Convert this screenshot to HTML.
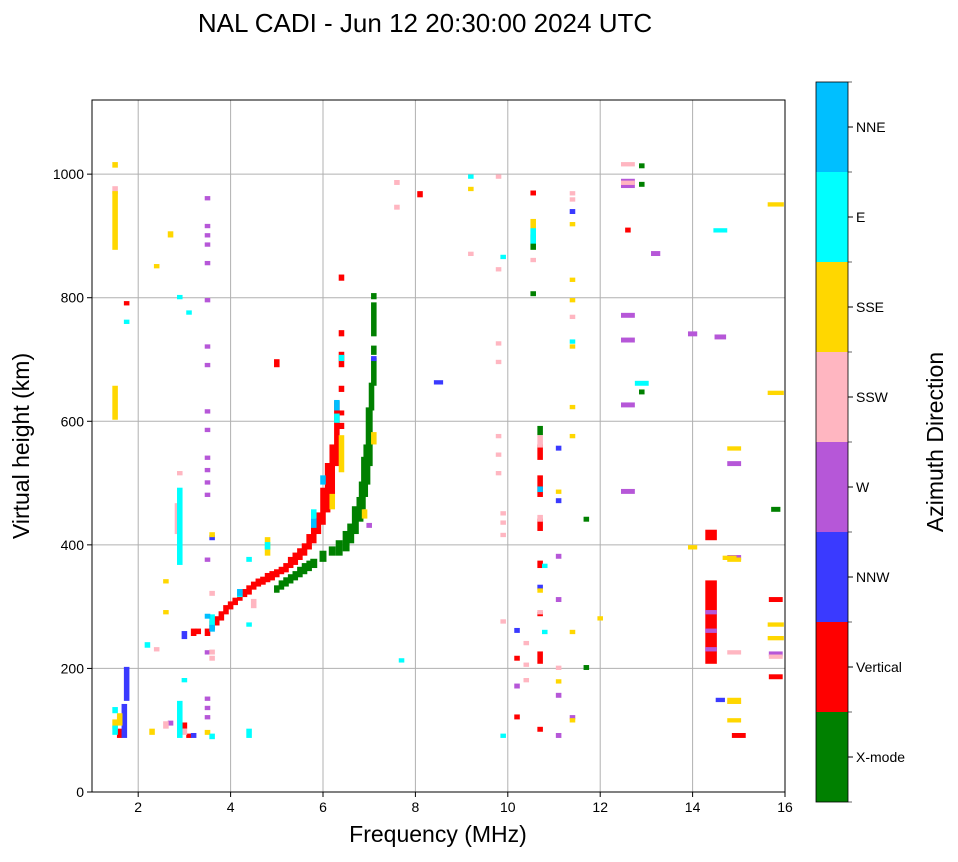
<!DOCTYPE html>
<html><head><meta charset="utf-8">
<style>
html,body{margin:0;padding:0;background:#fff;}
body{width:958px;height:857px;overflow:hidden;font-family:"Liberation Sans",sans-serif;}
</style></head>
<body>
<svg id="chart" width="958" height="857" xmlns="http://www.w3.org/2000/svg" font-family="Liberation Sans, sans-serif">
<text x="425" y="32" font-size="26" text-anchor="middle">NAL CADI - Jun 12 20:30:00 2024 UTC</text>
<g id="grid"></g>
<g id="cells"></g>
<rect x="92" y="100" width="693" height="692" fill="none" stroke="#000" stroke-width="1"/>
<g id="axes"></g>
<text x="438" y="842" font-size="23" text-anchor="middle">Frequency (MHz)</text>
<text x="0" y="0" font-size="23" text-anchor="middle" transform="translate(29,446) rotate(-90)">Virtual height (km)</text>
<g id="colorbar"></g>
<text x="0" y="0" font-size="23" text-anchor="middle" transform="translate(943,442) rotate(-90)">Azimuth Direction</text>
</svg>
<script>
// ---- data ----
const xTicks = [2,4,6,8,10,12,14,16];
const yTicks = [0,200,400,600,800,1000];
const categoryLabels = ["X-mode","Vertical","NNW","W","SSW","SSE","E","NNE"];
const categoryColors = ["#008000","#ff0000","#3a3aff","#b657d8","#ffb6c1","#ffd700","#00ffff","#00bfff"];
// cells: [freq MHz, hLow km, hHigh km, optional bin width MHz]
const xmodeCells = [[5.0,325,332],[5.1,330,340],[5.2,335,345],[5.3,340,350],[5.4,345,355],[5.5,350,362],[5.6,355,368],[5.7,360,372],[5.8,365,375,0.15],[6.0,375,388,0.15],[6.2,385,395,0.15],[6.35,385,405,0.15],[6.5,392,420,0.15],[6.6,405,432,0.15],[6.7,420,460,0.15],[6.8,440,475,0.15],[6.85,460,500,0.15],[6.9,480,540,0.15],[6.95,500,560,0.15],[7.0,530,620,0.15],[7.05,620,660],[7.1,660,700],[7.1,710,720],[7.1,740,790],[7.1,800,805],[10.55,880,900],[10.55,805,808],[10.7,580,590],[11.7,440,443],[11.7,200,203],[12.9,1012,1015],[12.9,982,985],[12.9,646,649],[15.8,456,459,0.2]];
const verticalCells = [[3.2,255,262],[3.3,258,262],[3.5,255,262],[3.6,265,275],[3.7,272,282],[3.8,280,290],[3.9,290,300],[4.0,298,306],[4.1,305,312],[4.2,312,320],[4.3,318,326],[4.4,322,332],[4.5,330,338],[4.6,335,343],[4.7,338,346],[4.8,342,352],[4.9,345,355],[5.0,350,358],[5.1,355,362],[5.2,358,368],[5.3,365,378],[5.4,370,385],[5.5,378,392],[5.6,385,400],[5.7,395,415],[5.8,405,430],[5.9,420,450],[6.0,435,490],[6.1,455,530],[6.2,475,560],[6.3,530,630],[6.4,690,710],[6.4,740,745],[6.4,830,835],[6.4,650,655],[6.4,612,615],[6.4,590,595],[5.0,690,698],[1.6,90,100],[1.75,790,792],[3.0,105,110],[3.1,90,92],[8.1,965,970],[10.2,215,218],[10.2,120,123],[10.55,968,971],[10.7,540,560],[10.7,480,510],[10.7,425,440],[10.7,365,372],[10.7,287,289],[10.7,210,225],[10.7,100,103],[12.6,908,911],[14.4,210,340,0.25],[14.4,410,422,0.25],[15.0,90,93,0.3],[15.8,310,313,0.3],[15.8,185,188,0.3]];
const nnwCells = [[1.7,90,140],[1.75,150,200],[3.0,250,258],[3.2,90,93],[3.6,410,413],[7.1,700,703],[8.5,662,664,0.2],[10.2,260,263],[10.7,330,333],[11.1,555,558],[11.1,470,473],[11.4,938,941],[14.6,148,150,0.2]];
const wCells = [[3.5,960,962],[3.5,915,917],[3.5,900,902],[3.5,885,887],[3.5,855,857],[3.5,795,797],[3.5,720,722],[3.5,690,692],[3.5,615,617],[3.5,585,587],[3.5,540,542],[3.5,520,522],[3.5,500,502],[3.5,480,482],[3.5,375,377],[3.5,225,227],[3.5,150,152],[3.5,135,137],[3.5,120,122],[2.7,110,113],[7.0,430,433],[10.2,170,173],[11.1,380,383],[11.1,310,313],[11.1,155,158],[11.1,90,93],[11.4,120,122],[12.6,980,990,0.3],[12.6,770,773,0.3],[12.6,730,733,0.3],[12.6,625,628,0.3],[12.6,485,488,0.3],[13.2,870,873,0.2],[14.0,740,743,0.2],[14.4,230,232,0.25],[14.4,260,262,0.25],[14.4,290,292,0.25],[14.6,735,738,0.25],[14.9,530,533,0.3],[14.9,378,381,0.3],[15.8,222,225,0.3]];
const sswCells = [[1.5,970,978],[2.4,230,232],[2.6,105,112],[2.85,420,465],[2.9,515,517],[3.0,95,100],[3.6,215,218],[3.6,225,228],[3.6,320,323],[4.5,300,310],[7.6,985,988],[7.6,945,948],[9.2,870,872],[9.8,995,997],[9.8,845,847],[9.8,725,727],[9.8,695,697],[9.8,575,577],[9.8,545,547],[9.8,515,517],[9.9,450,452],[9.9,435,437],[9.9,415,417],[9.9,275,277],[10.4,240,242],[10.4,205,207],[10.4,180,182],[10.55,860,862],[10.7,560,575],[10.7,440,446],[10.7,290,292],[11.1,200,202],[11.4,968,970],[11.4,958,960],[11.4,768,770],[12.6,1015,1017,0.3],[12.6,985,987,0.3],[14.9,225,227,0.3],[14.9,145,147,0.3],[15.8,218,220,0.3]];
const sseCells = [[1.5,880,970],[1.5,1013,1017],[1.5,605,655],[1.5,105,115],[1.6,110,125],[2.3,95,100],[2.4,850,852],[2.6,290,292],[2.6,340,342],[2.7,900,905],[3.6,415,418],[3.5,95,98],[4.8,385,410],[6.2,460,480],[6.4,520,575],[6.9,445,455],[7.1,565,580],[9.2,975,977],[10.55,905,925],[10.7,325,327],[11.1,485,487],[11.1,178,180],[11.4,918,920],[11.4,828,830],[11.4,795,797],[11.4,720,722],[11.4,622,624],[11.4,575,577],[11.4,258,260],[11.4,115,117],[12.0,280,282],[14.0,395,397,0.2],[14.8,378,380,0.3],[14.9,555,557,0.3],[14.9,375,377,0.3],[14.9,145,150,0.3],[14.9,115,117,0.3],[15.8,950,952,0.35],[15.8,645,647,0.35],[15.8,270,272,0.35],[15.8,248,250,0.35]];
const eCells = [[1.5,95,105],[1.5,130,135],[1.75,760,762],[2.2,236,240],[2.9,90,145],[2.9,370,490],[2.9,800,802],[3.0,180,182],[3.1,775,777],[3.6,88,92],[3.6,270,285],[4.2,318,325],[4.4,90,100],[4.4,270,272],[4.4,375,378],[4.8,395,402],[5.8,445,455],[6.3,600,610],[6.4,700,705],[7.7,212,214],[9.2,995,997],[9.9,90,92],[9.9,865,867],[10.55,890,910],[10.8,365,367],[10.8,258,260],[11.4,728,730],[12.9,660,663,0.3],[14.6,908,910,0.3]];
const nneCells = [[3.5,283,286],[4.2,320,326],[5.8,430,440],[6.3,620,632],[6.0,500,510],[3.6,262,268],[10.7,488,492]];
const allCells = [xmodeCells,verticalCells,nnwCells,wCells,sswCells,sseCells,eCells,nneCells];

// ---- scales ----
const X0=92,X1=785,Y0=792,Y1=100, FMIN=1,FMAX=16,HMIN=0,HMAX=1120;
const xs = f => X0+(f-FMIN)/(FMAX-FMIN)*(X1-X0);
const ys = h => Y0-(h-HMIN)/(HMAX-HMIN)*(Y0-Y1);
const NS="http://www.w3.org/2000/svg";
function mk(tag,attrs,parent){const e=document.createElementNS(NS,tag);for(const k in attrs)e.setAttribute(k,attrs[k]);parent.appendChild(e);return e;}

const grid=document.getElementById('grid'), axes=document.getElementById('axes');
xTicks.forEach(t=>{
  const x=xs(t);
  if(t<FMAX){const l=mk('line',{x1:x,x2:x,y1:Y1,y2:Y0,stroke:'#b0b0b0','stroke-width':1},grid);
  
  }
  const tk=mk('line',{x1:x,x2:x,y1:Y0,y2:Y0+5,stroke:'#000'},axes);
  
  
  const tx=mk('text',{x:x,y:Y0+20,'font-size':14,'text-anchor':'middle'},axes);tx.textContent=t;
  
  
});
yTicks.forEach(t=>{
  const y=ys(t);
  if(t>0){const l=mk('line',{x1:X0,x2:X1,y1:y,y2:y,stroke:'#b0b0b0','stroke-width':1},grid);
  
  }
  const tk=mk('line',{x1:X0-5,x2:X0,y1:y,y2:y,stroke:'#000'},axes);
  
  
  const tx=mk('text',{x:X0-8,y:y+5,'font-size':14,'text-anchor':'end'},axes);tx.textContent=t;
  
  
});

const cells=document.getElementById('cells');
allCells.forEach((arr,ci)=>{
  arr.forEach(c=>{
    const w=(c[3]||0.12);
    const xa=xs(c[0]-w/2), xb=xs(c[0]+w/2);
    const ya=ys(c[2]+2.5), yb=ys(c[1]-2.5);
    const r=mk('rect',{x:xa,y:ya,width:xb-xa,height:Math.max(yb-ya,2.5),fill:categoryColors[ci]},cells);
    
    
  });
});

const cb=document.getElementById('colorbar');
const CBX=816,CBW=32,CBT=82,CBB=802,n=categoryLabels.length,bh=(CBB-CBT)/n;
categoryLabels.forEach((lab,i)=>{
  const y=CBB-(i+1)*bh;
  const r=mk('rect',{x:CBX,y:y,width:CBW,height:bh,fill:categoryColors[i]},cb);
  
  
  const tk=mk('line',{x1:CBX+CBW,x2:CBX+CBW+5,y1:y+bh/2,y2:y+bh/2,stroke:'#000'},cb);
  
  
  const tx=mk('text',{x:CBX+CBW+8,y:y+bh/2+5,'font-size':14},cb);tx.textContent=lab;
  
  
});
for(let i=0;i<=n;i++){const y=CBT+i*bh;
  mk('line',{x1:CBX+CBW,x2:CBX+CBW+4,y1:y,y2:y,stroke:'#000','stroke-width':0.6},cb);}
mk('rect',{x:CBX,y:CBT,width:CBW,height:CBB-CBT,fill:'none',stroke:'#000','stroke-width':0.8},cb);
</script>
</body></html>
